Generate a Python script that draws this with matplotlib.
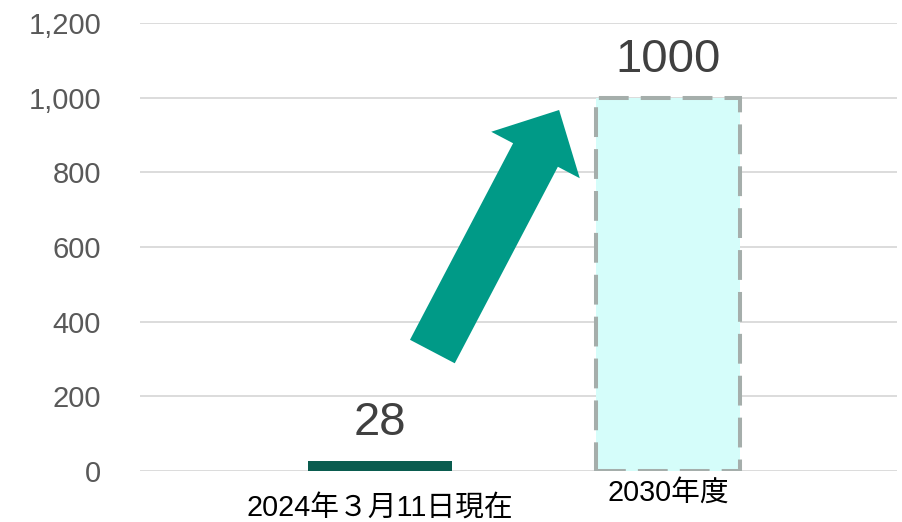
import matplotlib
matplotlib.use("Agg")
import matplotlib.pyplot as plt
from matplotlib.patches import FancyArrowPatch, ArrowStyle

plt.rcParams['font.family'] = ['Liberation Sans', 'Noto Sans CJK JP']

# data
categories = ["2024年３月11日現在", "2030年度"]
values = [28, 1000]
yticks = [0, 200, 400, 600, 800, 1000, 1200]
ytick_labels = ["0", "200", "400", "600", "800", "1,000", "1,200"]

# growth arrow (data coords: tail -> tip)
arrow_tail = (0.182, 320)
arrow_tip = (0.622, 967)

dark_green = "#0A5C4F"
light_cyan = "#D5FDFA"
teal = "#009A87"
grid_grey = "#D9D9D9"

fig = plt.figure(figsize=(9.02, 5.22), dpi=100)
ax = fig.add_axes([140 / 902, 51 / 522, 757 / 902, 448 / 522])

x = list(range(len(categories)))
width = 0.503
ax.bar(x[0], values[0], width=width, color=dark_green, zorder=2)
ax.bar(x[1], values[1], width=width, color=light_cyan, edgecolor="#A5AEAB",
       linewidth=2.9, linestyle=(0, (7.4, 3)), zorder=2)

for xi, v in zip(x, values):
    ax.annotate(str(v), (xi, v), xytext=(0, 11), textcoords="offset points",
                ha="center", va="bottom", fontsize=34, color="#404040")

ax.set_xlim(-0.833, 1.795)
ax.set_ylim(0, 1200)
ax.set_yticks(yticks)
ax.set_yticklabels(ytick_labels)
ax.set_xticks([])

# category labels, the first one sits a bit lower
label_drop = [-26.6, -15.8]
for xi, cat, dy in zip(x, categories, label_drop):
    ax.annotate(cat, (xi, 0), xycoords=("data", "axes fraction"),
                xytext=(0, dy), textcoords="offset points",
                ha="center", va="center", fontsize=20.7, color="black",
                annotation_clip=False)

ax.tick_params(axis="y", length=0, pad=28, labelsize=21, labelcolor="#595959")

ax.grid(axis="y", color=grid_grey, linewidth=1.3, zorder=0)
ax.set_axisbelow(True)
for s in ax.spines.values():
    s.set_visible(False)

# big arrow
style = ArrowStyle.Simple(head_length=36.6, head_width=72, tail_width=36.4)
arrow = FancyArrowPatch(arrow_tail, arrow_tip, arrowstyle=style,
                        mutation_scale=1, color=teal, shrinkA=0, shrinkB=0,
                        linewidth=0, zorder=3)
ax.add_patch(arrow)

fig.savefig("out.png", dpi=100)
